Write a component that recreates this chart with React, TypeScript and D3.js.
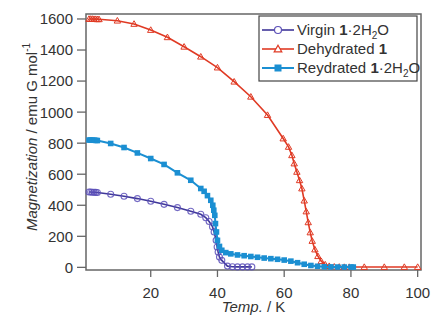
import React from "react";
import * as d3 from "d3";

// Temperature (K) and magnetization (emu G mol^-1)
const virginT = [1.5, 2, 2.5, 3, 3.5, 4, 8, 12, 16, 20, 24, 28, 32, 35, 36.5, 37.5, 38.5, 39, 39.6, 39.9, 40.2, 40.6, 41.3, 43, 44.5, 46, 47.5, 49, 50.3];
const virginM = [485, 485, 484, 484, 483, 482, 471, 458, 443, 426, 406, 385, 361, 342, 320, 295, 262, 228, 174, 131, 99, 66, 45, 8, 4, 3, 3, 3, 3];

const dehydT = [1.5, 2, 2.5, 3, 3.5, 4, 4.5, 10, 15, 20, 25, 30, 35, 40, 45, 50, 55, 59.7, 61.3, 62.3, 63, 63.8, 64.6, 65.3, 66, 66.6, 67.2, 67.8, 68.4, 69.2, 70.1, 71.1, 72.3, 73.5, 75, 76.5, 78, 79.5, 84, 90, 96, 100];
const dehydM = [1600, 1600, 1600, 1599, 1599, 1598, 1598, 1589, 1568, 1529, 1482, 1421, 1357, 1287, 1196, 1099, 981, 830, 776, 722, 669, 615, 561, 508, 430, 360, 290, 225, 170, 115, 72, 40, 18, 8, 4, 3, 2, 2, 2, 2, 2, 2];

const rehydT = [1.5, 2, 2.5, 3, 3.5, 4, 8, 12, 16, 20, 24, 28, 32, 35, 36, 37, 38, 38.6, 38.9, 39.2, 39.4, 39.7, 40, 40.6, 41.3, 42.5, 44, 46, 48, 50, 52, 54, 56, 58, 60, 62, 64, 66, 68, 70, 72, 74, 76, 78, 80, 80.7];
const rehydM = [820, 820, 819, 819, 818, 817, 798, 772, 737, 701, 663, 609, 561, 508, 490, 462, 432, 400, 368, 335, 282, 228, 174, 135, 110, 95, 87, 80, 75, 70, 65, 60, 56, 52, 47, 40, 30, 20, 12, 7, 4, 3, 2, 2, 2, 2];

const xTicks = [20, 40, 60, 80, 100];
const yTicks = [0, 200, 400, 600, 800, 1000, 1200, 1400, 1600];

const PURPLE = "#3f3799";
const PURPLE_MK = "#5c50b8";
const RED = "#e03a24";
const BLUE = "#1b8fd2";
const AXIS = "#666";
const TEXT = "#333";
const FONT = "'Liberation Sans', Arial, sans-serif";

const pairs = (t: number[], m: number[]) => t.map((v, i) => [v, m[i]] as [number, number]);

export default function App() {
  const left = 86, right = 421, top = 14, bottom = 270;

  const x = d3.scaleLinear().domain([0.6, 101]).range([left, right]);
  const y = d3.scaleLinear().domain([-17, 1632]).range([bottom, top]);

  const line = d3
    .line<[number, number]>()
    .x((d) => x(d[0]))
    .y((d) => y(d[1]));

  const virgin = pairs(virginT, virginM);
  const dehyd = pairs(dehydT, dehydM);
  const rehyd = pairs(rehydT, rehydM);

  const tri = (cx: number, cy: number, s = 3.2) =>
    `M${cx},${cy - s}L${cx + s},${cy + s * 0.75}L${cx - s},${cy + s * 0.75}Z`;

  return (
    <svg width={435} height={320} style={{ position: "absolute", left: 0, top: 0 }} fontFamily={FONT}>
      <rect width={435} height={320} fill="#fff" />

      {/* frame */}
      <rect x={left} y={top} width={right - left} height={bottom - top} fill="none" stroke={AXIS} strokeWidth={1.5} />

      {/* y axis */}
      {yTicks.map((t) => (
        <g key={"y" + t}>
          <line x1={left - 9} x2={left} y1={y(t)} y2={y(t)} stroke={AXIS} strokeWidth={1.3} />
          <text x={left - 13} y={y(t)} dy="0.36em" textAnchor="end" fontSize={15} fill={TEXT}>
            {t}
          </text>
        </g>
      ))}
      {/* x axis */}
      {xTicks.map((t) => (
        <g key={"x" + t}>
          <line x1={x(t)} x2={x(t)} y1={bottom} y2={bottom + 7} stroke={AXIS} strokeWidth={1.3} />
          <text x={x(t)} y={298} textAnchor="middle" fontSize={15} fill={TEXT}>
            {t}
          </text>
        </g>
      ))}

      <text x={(left + right) / 2} y={312} textAnchor="middle" fontSize={15} fill={TEXT}>
        <tspan fontStyle="italic">Temp.</tspan> / K
      </text>
      <text transform="translate(37,137) rotate(-90)" textAnchor="middle" fontSize={15} fill={TEXT}>
        <tspan fontStyle="italic">Magnetization</tspan> / emu G mol
        <tspan fontSize={10} dy={-7}>-1</tspan>
      </text>

      {/* series */}
      <path d={line(virgin) ?? ""} fill="none" stroke={PURPLE} strokeWidth={1.6} />
      {virgin.map((d, i) => (
        <circle key={"v" + i} cx={x(d[0])} cy={y(d[1])} r={3} fill="none" stroke={PURPLE_MK} strokeWidth={1.1} opacity={0.85} />
      ))}

      <path d={line(dehyd) ?? ""} fill="none" stroke={RED} strokeWidth={1.6} />
      {dehyd.map((d, i) => (
        <path key={"d" + i} d={tri(x(d[0]), y(d[1]))} fill="none" stroke={RED} strokeWidth={1} />
      ))}

      <path d={line(rehyd) ?? ""} fill="none" stroke={BLUE} strokeWidth={2} />
      {rehyd.map((d, i) => (
        <rect key={"r" + i} x={x(d[0]) - 2.8} y={y(d[1]) - 2.8} width={5.6} height={5.6} fill={BLUE} />
      ))}

      {/* legend */}
      <rect x={259} y={16} width={158} height={65} fill="#fff" stroke="#444" strokeWidth={1.2} />
      <g fontSize={15} fill={TEXT}>
        <line x1={262} x2={294} y1={30} y2={30} stroke={PURPLE} strokeWidth={1.6} />
        <circle cx={278} cy={30} r={3.5} fill="#fff" stroke={PURPLE_MK} strokeWidth={1.2} />
        <text x={297} y={35}>
          Virgin <tspan fontWeight="bold">1</tspan>·2H<tspan fontSize={10} dy={4}>2</tspan>
          <tspan dy={-4}>O</tspan>
        </text>

        <line x1={262} x2={294} y1={49} y2={49} stroke={RED} strokeWidth={1.6} />
        <path d={tri(278, 49, 3.8)} fill="#fff" stroke={RED} strokeWidth={1.2} />
        <text x={297} y={54}>
          Dehydrated <tspan fontWeight="bold">1</tspan>
        </text>

        <line x1={262} x2={294} y1={68} y2={68} stroke={BLUE} strokeWidth={2} />
        <rect x={274.5} y={64.5} width={7} height={7} fill={BLUE} />
        <text x={297} y={73}>
          Reydrated <tspan fontWeight="bold">1</tspan>·2H<tspan fontSize={10} dy={4}>2</tspan>
          <tspan dy={-4}>O</tspan>
        </text>
      </g>
    </svg>
  );
}
